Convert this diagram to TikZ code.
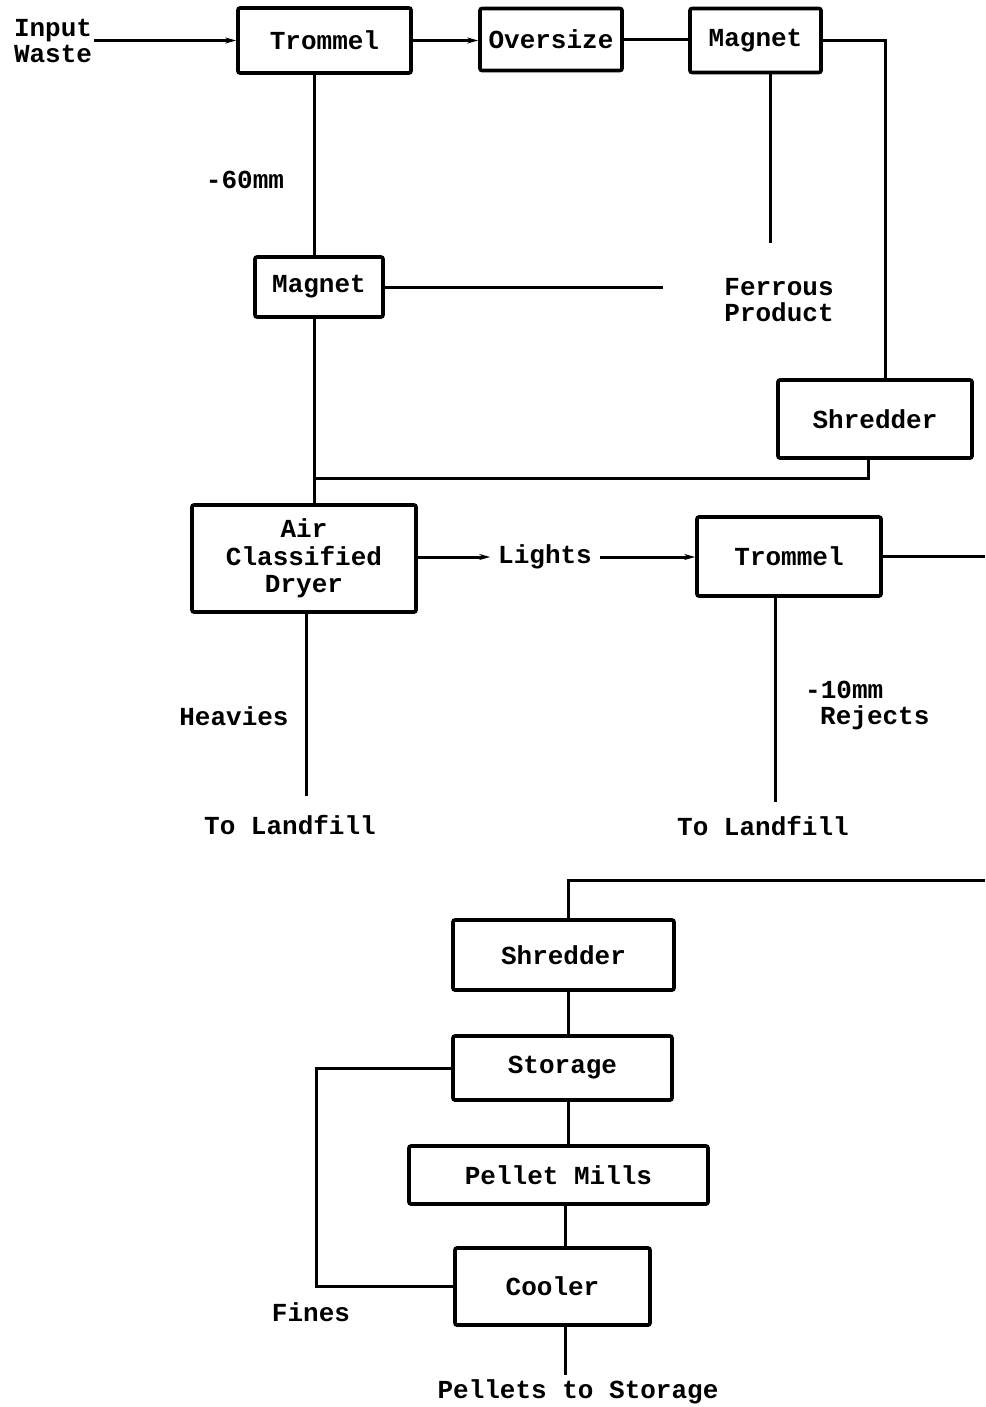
\documentclass[tikz,border=0pt]{standalone}
\usepackage{fontspec}
\setmainfont{Liberation Mono}
\usetikzlibrary{arrows.meta}
\begin{document}
\begin{tikzpicture}[x=1pt,y=-1pt,
  box/.style={draw, line width=3.6pt, rounded corners=2pt, inner sep=0pt,
    align=center, font=\fontsize{26}{27.5}\selectfont\bfseries},
  lbl/.style={inner sep=0pt, align=center, font=\fontsize{26}{26}\selectfont\bfseries},
  flow/.style={line width=3pt},
  arr/.style={flow, -{Stealth[length=11pt,width=6pt]}}]
\useasboundingbox (0,0) rectangle (985,1407);

% process units
\node[box, minimum width=173pt, minimum height=65pt] (trommel)  at (324.5,40.5) {Trommel};
\node[box, minimum width=142pt, minimum height=62pt] (oversize) at (551,39.5) {Oversize};
\node[box, minimum width=131pt, minimum height=64pt] (magA)     at (755.5,40.5) {Magnet};
\node[box, minimum width=128pt, minimum height=60pt] (magB)     at (319,287) {Magnet};
\node[box, minimum width=194pt, minimum height=78pt] (shredA)   at (875,419) {Shredder};
\node[box, minimum width=224pt, minimum height=107pt] (acd)     at (304,558.5) {Air\\Classified\\Dryer};
\node[box, minimum width=184pt, minimum height=79pt] (trommelB) at (789,556.5) {Trommel};
\node[box, minimum width=221pt, minimum height=70pt] (shredB)   at (563.5,955) {Shredder};
\node[box, minimum width=219pt, minimum height=64pt] (storage)  at (562.5,1068) {Storage};
\node[box, minimum width=299pt, minimum height=58pt] (pellet)   at (558.5,1175) {Pellet Mills};
\node[box, minimum width=195pt, minimum height=77pt] (cooler)   at (552.5,1286.5) {Cooler};

% labels
\node[lbl, align=left, anchor=west, outer sep=2pt] (input) at (12,40.5) {Input\\Waste};
\node[lbl] (m60) at (245,180) {-60mm};
\node[lbl, align=left] (ferrous) at (779,300) {Ferrous\\Product};
\node[lbl, outer sep=8pt] (lights) at (545,557) {Lights};
\node[lbl, align=left, anchor=west] (m10) at (805,705) {-10mm\\\hspace*{15pt}Rejects};
\node[lbl] (heavies) at (234,716) {Heavies};
\node[lbl] (landA) at (290,825) {To Landfill};
\node[lbl] (landB) at (763,826) {To Landfill};
\node[lbl] (fines) at (311,1312) {Fines};
\node[lbl] (pellets) at (578,1392) {Pellets to Storage};

% free line ends
\coordinate (ferA) at (770,243);
\coordinate (ferB) at (663,287);
\coordinate (join) at (314,478);
\coordinate (heavEnd) at (306,796);
\coordinate (rejEnd) at (775,802);
\coordinate (outR) at (985,560);
\coordinate (inR) at (985,880);
\coordinate (pelEnd) at (565,1375);
\coordinate (fineL) at (316,1068);

% top line
\draw[arr] (input.east) -- (input.east -| trommel.west);
\draw[arr] (trommel.east) -- (trommel.east -| oversize.west);
\draw[flow] (oversize.east) -- (oversize.east -| magA.west);
\draw[flow] (magA.east) -| ([xshift=10pt]shredA.north);
\draw[flow] ([xshift=14.5pt]magA.south) -- (ferA);

% undersize route
\draw[flow] ([xshift=-10.5pt]trommel.south) -- ([xshift=-5pt]magB.north);
\draw[flow] (magB.east) -- (ferB);
\draw[flow] ([xshift=-5pt]magB.south) -- ([xshift=10pt]acd.north);
\draw[flow] ([xshift=-7pt]shredA.south) |- (join);

% air classification
\draw[arr] (acd.east |- lights.west) -- (lights.west);
\draw[arr] (lights.east) -- (lights.east -| trommelB.west);
\draw[flow] ([xshift=2pt]acd.south) -- (heavEnd);
\draw[flow] ([xshift=-14pt]trommelB.south) -- (rejEnd);
\draw[flow] (trommelB.east) -- (trommelB.east -| outR);

% pelletising line
\draw[flow] (inR) -| ([xshift=4.5pt]shredB.north);
\draw[flow] ([xshift=4.5pt]shredB.south) -- ([xshift=5.5pt]storage.north);
\draw[flow] ([xshift=5.5pt]storage.south) -- ([xshift=9.5pt]pellet.north);
\draw[flow] ([xshift=6.5pt]pellet.south) -- ([xshift=12.5pt]cooler.north);
\draw[flow] ([xshift=12.5pt]cooler.south) -- (pelEnd);
\draw[flow] (storage.west) -- (fineL) |- (cooler.west);
\end{tikzpicture}
\end{document}
